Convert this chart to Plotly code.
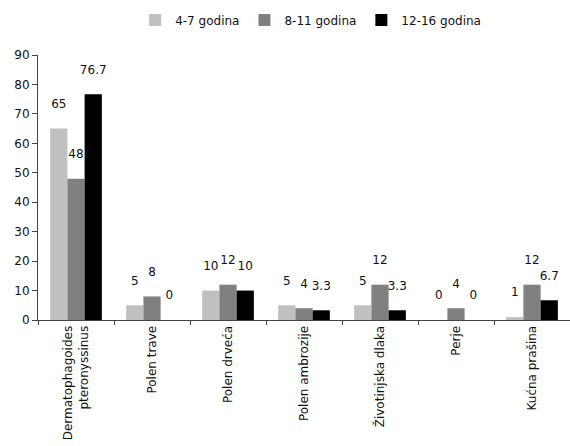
import plotly.graph_objects as go

categories = [
    "Dermatophagoides<br>pteronyssinus",
    "Polen trave",
    "Polen drveća",
    "Polen ambrozije",
    "Životinjska dlaka",
    "Perje",
    "Kućna prašina",
]
age_4_7 = [65, 5, 10, 5, 5, 0, 1]
age_8_11 = [48, 8, 12, 4, 12, 4, 12]
age_12_16 = [76.7, 0, 10, 3.3, 3.3, 0, 6.7]
series_names = ["4-7 godina", "8-11 godina", "12-16 godina"]
y_ticks = [0, 10, 20, 30, 40, 50, 60, 70, 80, 90]

colors = ["#C0C0C0", "#808080", "#000000"]
FONT = "DejaVu Sans"

fig = go.Figure()
for name, vals, col in zip(series_names, [age_4_7, age_8_11, age_12_16], colors):
    # an empty second line lifts each value label clear of its bar
    labels = [f"{v:g}<br><span style='font-size:7px'>\u00a0</span>" for v in vals]
    fig.add_trace(go.Bar(
        x=categories, y=vals, name=name,
        marker=dict(color=col, line=dict(width=0)),
        text=labels,
        textposition="outside",
        textfont=dict(family=FONT, size=12, color="#111"),
        constraintext="none",
        cliponaxis=False,
        hovertemplate="%{x}: %{y}<extra>" + name + "</extra>",
    ))

fig.update_layout(
    width=570, height=446,
    margin=dict(l=38, r=0, t=55, b=126),
    paper_bgcolor="white", plot_bgcolor="white",
    barmode="group", bargap=0.32, bargroupgap=0,
    font=dict(family=FONT, size=12, color="#111"),
    showlegend=True,
    legend=dict(
        orientation="h", x=0.545, xanchor="center", xref="container",
        y=0.955, yanchor="middle", yref="container",
        font=dict(family=FONT, size=12, color="#111"),
        itemwidth=30, traceorder="normal",
    ),
    xaxis=dict(
        type="category", tickangle=-90, tickson="boundaries",
        ticks="outside", ticklen=4, tickcolor="#444",
        showline=True, linecolor="#444", linewidth=1,
        showgrid=False, tickfont=dict(family=FONT, size=12),
    ),
    yaxis=dict(
        range=[0, 90], tickvals=y_ticks,
        ticks="outside", ticklen=5, tickcolor="#444",
        showline=True, linecolor="#444", linewidth=1,
        showgrid=False, zeroline=False,
        tickfont=dict(family=FONT, size=12),
    ),
)

fig.write_html("out.html")
